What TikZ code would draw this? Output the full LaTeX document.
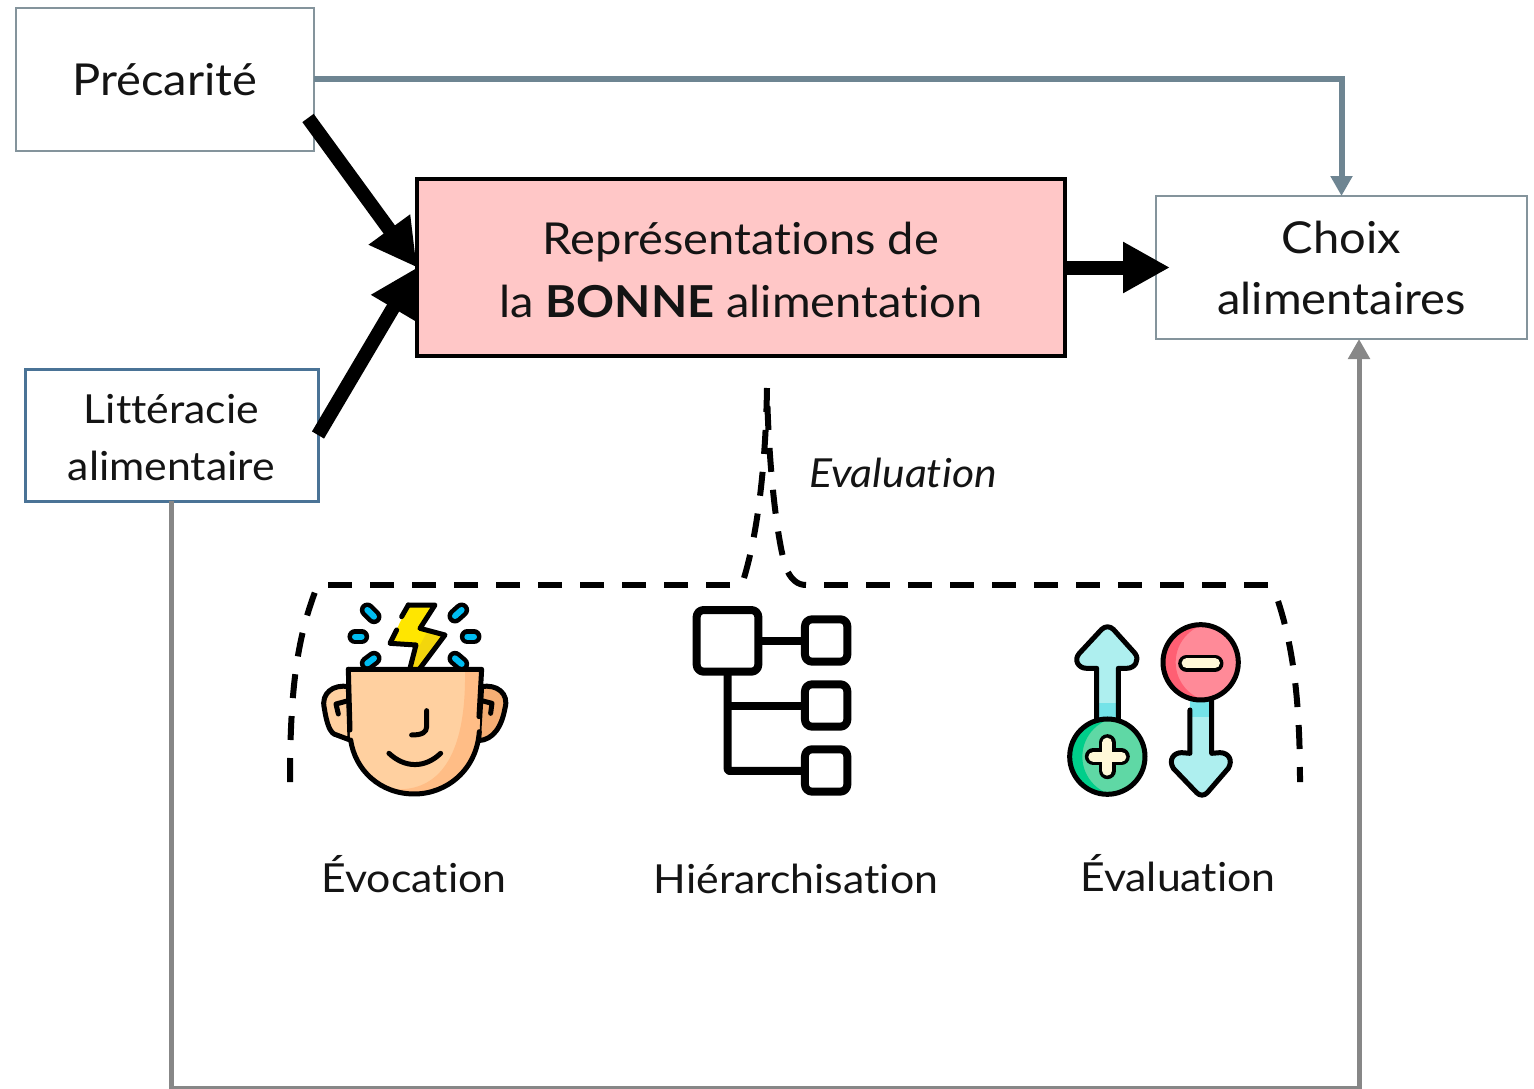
\documentclass[tikz,border=0pt]{standalone}
\usepackage{fontspec}
\setmainfont{Lato}[FakeStretch=1.07,Ligatures=NoCommon]
\usetikzlibrary{arrows.meta}
\definecolor{pinkfill}{HTML}{FFC7C7}
\definecolor{slate}{HTML}{6E8592}
\definecolor{boxgrey}{HTML}{84949C}
\definecolor{boxblue}{HTML}{4A7396}
\definecolor{linegrey}{HTML}{878787}
\definecolor{skin}{HTML}{FFD0A0}
\definecolor{skindark}{HTML}{FFBD86}
\definecolor{earR}{HTML}{F5AE74}
\definecolor{boltY}{HTML}{FFE600}
\definecolor{boltD}{HTML}{F3D60C}
\definecolor{drop}{HTML}{00BDF2}
\definecolor{aqua}{HTML}{AEEFEF}
\definecolor{aquaD}{HTML}{74E3E8}
\definecolor{greenL}{HTML}{5FD8A5}
\definecolor{greenD}{HTML}{00CE8A}
\definecolor{redL}{HTML}{FF8A98}
\definecolor{redD}{HTML}{FF5F73}
\definecolor{cream}{HTML}{FFF8D8}
\tikzset{
  x=1pt,y=-1pt,
  box/.style={draw,outer sep=0pt,inner sep=0pt,align=center,text=black!92},
  bigtext/.style={font=\fontsize{44}{63}\selectfont},
  choixtext/.style={font=\fontsize{44}{61}\selectfont},
  midtext/.style={font=\fontsize{40}{57}\selectfont},
  label/.style={anchor=base,inner sep=0pt,font=\fontsize{40}{48}\selectfont,text=black!92},
  boldarrow/.style={line width=14pt,-{Triangle[length=47pt,width=48pt]}},
  thinarrow/.style={-{Triangle[length=20pt,width=21pt]}},
  bracket/.style={line width=6pt,dash pattern=on 24pt off 18pt},
  ink/.style={line width=5pt,line join=round,line cap=round},
  treeink/.style={line width=8pt,line join=round,rounded corners=7pt},
  capsule/.style={line width=15pt,line cap=round},
  capsulein/.style={line width=6pt,line cap=round,drop},
}
\begin{document}
\begin{tikzpicture}
\useasboundingbox (0,0) rectangle (1534,1089);
% boxes
\node[box,draw=boxgrey,line width=2.5pt,minimum width=298pt,minimum height=143pt,bigtext] (prec) at (165,79.5) {Précarité};
\node[box,draw=boxblue,line width=3pt,minimum width=293pt,minimum height=132pt,midtext] (lit) at (171.5,435) {\rule{0pt}{35pt}Littéracie\\alimentaire};
\node[box,draw=black,fill=pinkfill,line width=3.5pt,minimum width=648pt,minimum height=177pt,bigtext] (rep) at (741,267.5) {\rule{0pt}{37pt}Représentations de\\la \textbf{BONNE} alimentation};
\node[box,draw=boxgrey,line width=2.5pt,minimum width=371pt,minimum height=143pt,choixtext] (choix) at (1341.5,267.5) {Choix\\alimentaires};
% free ends
\coordinate (pstart) at (308,118);
\coordinate (lstart) at (318,435);
\coordinate (floor) at (1359,1088);
\coordinate (bracetop) at (767,388);
\coordinate (bl) at (290,782);
\coordinate (br) at (1300,782);
% connectors
\draw[slate,line width=6pt,thinarrow] (prec.east) -| (choix.north);
\draw[linegrey,line width=5pt,thinarrow] (lit.south) |- (floor) -- ([xshift=17.5pt]choix.south);
\draw[boldarrow] (pstart) -- (rep.west);
\draw[boldarrow] (lstart) -- (rep.west);
\draw[boldarrow] (rep.east) -- ([xshift=14pt]choix.west);
% bracket
\draw[bracket] (bracetop) .. controls (766,450) and (760,525) .. (744,578);
\draw[bracket] (730,585) -- (328,585);
\draw[bracket] (bl) .. controls (290,690) and (297,640) .. (315,592);
\draw[bracket,dash phase=24pt] (bracetop) .. controls (768,450) and (775,530) .. (785,565) .. controls (790,580) and (798,585) .. (806,585);
\draw[bracket] (824,585) -- (1268,585);
\draw[bracket,dash phase=9pt] (br) .. controls (1300,700) and (1293,645) .. (1277,598);
% labels
\node[label,font=\fontsize{40}{48}\selectfont\itshape] (evalit) at (903,487) {Evaluation};
\node[label] (evoc) at (414,892) {Évocation};
\node[label] (hier) at (796,893) {Hiérarchisation};
\node[label] (eval) at (1178,891) {Évaluation};
% head icon
\begin{scope}[shift={(280,580)},x=0.3333pt,y=-0.3333pt]
  \draw[ink,fill=skin] (205,320) .. controls (160,312) and (122,340) .. (133,385) .. controls (140,430) and (150,462) .. (170,465) -- (210,480) -- cycle;
  \draw[ink,fill=earR] (605,320) .. controls (650,312) and (688,340) .. (675,385) .. controls (665,440) and (640,480) .. (595,482) -- cycle;
  \draw[ink] (175,402) -- (168,372) -- (205,362);
  \draw[ink] (632,400) -- (636,370) -- (605,362);
  \fill[boltY] (385,75) -- (465,75) -- (420,145) -- (495,165) -- (420,265) -- (390,265) -- (408,195) -- (330,190) -- cycle;
  \fill[boltD] (445,150) -- (495,165) -- (420,265) -- (398,265) -- (408,195) -- (420,195) -- cycle;
  \draw[ink] (385,75) -- (465,75) -- (420,145) -- (495,165) -- (420,265);
  \draw[ink] (390,265) -- (408,195) -- (330,190) -- (350,150);
  \draw[ink] (365,110) -- (385,75);
  \foreach \a/\b/\c/\d in {262/90/282/110, 225/170/245/170, 262/250/282/235, 525/108/545/90, 562/170/582/170, 525/235/545/252}{
    \draw[capsule] (\a,\b) -- (\c,\d);
    \draw[capsulein] (\a,\b) -- (\c,\d);
  }
  \path[fill=skin] (205,268) -- (605,268) -- (598,470) .. controls (590,570) and (500,642) .. (403,642) .. controls (300,642) and (220,570) .. (210,470) -- cycle;
  \path[fill=skindark] (555,268) -- (605,268) -- (598,470) .. controls (590,570) and (500,642) .. (403,642) .. controls (385,642) and (365,636) .. (352,628) .. controls (470,630) and (560,540) .. (555,268);
  \draw[ink] (598,455) .. controls (590,570) and (500,642) .. (403,642) .. controls (300,642) and (225,570) .. (212,480);
  \draw[ink] (205,268) -- (605,268) -- (597,410);
  \draw[ink] (205,268) -- (210,450);
  \draw[ink] (440,392) -- (440,440) .. controls (440,458) and (425,465) .. (395,465);
  \draw[ink] (327,520) .. controls (375,565) and (435,565) .. (482,520);
\end{scope}
% tree icon
\begin{scope}[shift={(680,600)},x=0.3333pt,y=-0.3333pt]
  \draw[treeink] (50,30) rectangle (235,215);
  \draw[treeink] (375,58) rectangle (502,185);
  \draw[treeink] (375,253) rectangle (502,380);
  \draw[treeink] (375,448) rectangle (502,575);
  \draw[line width=8pt] (235,122) -- (375,122);
  \draw[line width=8pt] (143,318) -- (375,318);
  \draw[treeink,rounded corners=2pt] (143,215) -- (143,513) -- (375,513);
\end{scope}
% up/down icon
\begin{scope}[shift={(1050,600)},x=0.3333pt,y=-0.3333pt]
  \path[fill=aqua] (140,360) -- (140,205) -- (110,205) .. controls (85,205) and (70,180) .. (88,160) -- (155,88) .. controls (165,78) and (180,78) .. (190,88) -- (255,160) .. controls (270,180) and (255,205) .. (230,205) -- (205,205) -- (205,360) -- cycle;
  \fill[aquaD] (140,308) rectangle (205,360);
  \draw[ink] (140,360) -- (140,205) -- (110,205) .. controls (85,205) and (70,180) .. (88,160) -- (155,88) .. controls (165,78) and (180,78) .. (190,88) -- (255,160) .. controls (270,180) and (255,205) .. (230,205) -- (205,205) -- (205,360);
  \path[fill=aqua] (420,300) -- (420,460) -- (395,458) .. controls (370,458) and (355,480) .. (370,505) -- (440,578) .. controls (450,588) and (462,588) .. (472,578) -- (535,505) .. controls (550,480) and (535,458) .. (510,458) -- (485,460) -- (485,300) -- cycle;
  \fill[aquaD] (420,300) rectangle (485,352);
  \draw[ink] (420,330) -- (420,460) -- (395,458) .. controls (370,458) and (355,480) .. (370,505) -- (440,578) .. controls (450,588) and (462,588) .. (472,578) -- (535,505) .. controls (550,480) and (535,458) .. (510,458) -- (485,460) -- (485,300);
  % plus circle
  \fill[greenL] (172,470) circle[radius=113];
  \begin{scope}
    \clip (172,470) circle[radius=113];
    \path[fill=greenD,even odd rule] (172,470) circle[radius=113] (215,470) circle[radius=118];
  \end{scope}
  \draw[ink] (172,470) circle[radius=113];
  \draw[line width=17pt,line cap=round] (172,428) -- (172,512) (130,470) -- (214,470);
  \draw[line width=10pt,line cap=round,cream] (172,428) -- (172,512) (130,470) -- (214,470);
  % minus circle
  \fill[redL] (452,187) circle[radius=113];
  \begin{scope}
    \clip (452,187) circle[radius=113];
    \path[fill=redD,even odd rule] (452,187) circle[radius=113] (495,187) circle[radius=118];
  \end{scope}
  \draw[ink] (452,187) circle[radius=113];
  \draw[line width=17pt,line cap=round] (410,190) -- (495,190);
  \draw[line width=10pt,line cap=round,cream] (410,190) -- (495,190);
\end{scope}
\end{tikzpicture}
\end{document}
